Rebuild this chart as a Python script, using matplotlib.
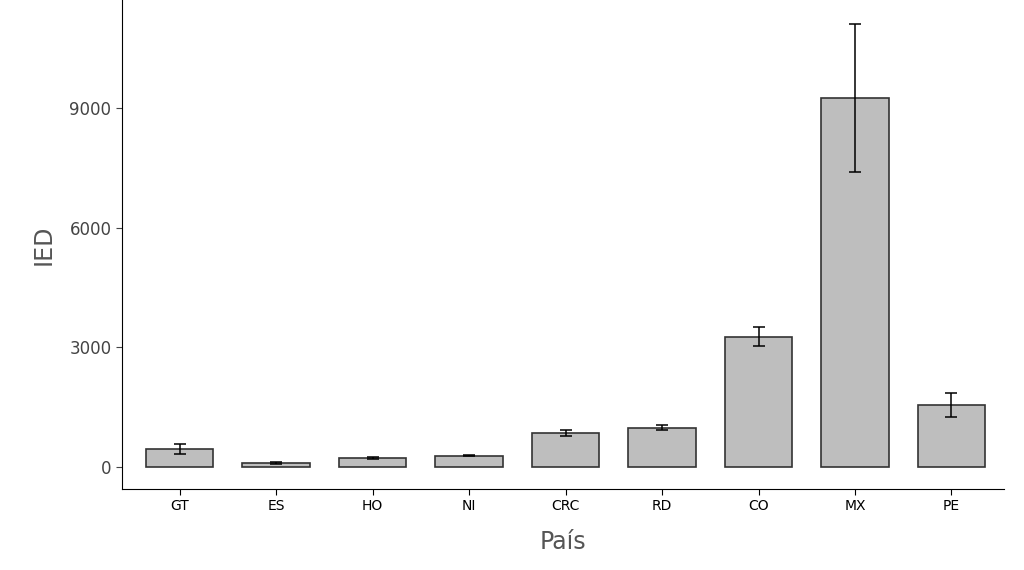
import matplotlib
matplotlib.use('Agg')
import matplotlib.pyplot as plt

paises = ['GT', 'ES', 'HO', 'NI', 'CRC', 'RD', 'CO', 'MX', 'PE']
ied = [450, 110, 230, 290, 850, 990, 3270, 9250, 1560]
err = [130, 30, 30, 20, 80, 70, 240, 1850, 300]

fig = plt.figure(figsize=(10.24, 5.7), dpi=100)
ax = fig.add_axes([0.119, 0.142, 0.861, 0.858])
x = list(range(len(paises)))
ax.bar(x, ied, width=0.7, color='#bebebe', edgecolor='#333333', linewidth=1.2)
ax.errorbar(x, ied, yerr=err, fmt='none', ecolor='black', elinewidth=1.1, capsize=4, capthick=1.1)

ax.set_xlim(-0.6, 8.54)
ax.set_ylim(-550, 11700)
ax.set_yticks([0, 3000, 6000, 9000])
ax.set_xticks(x)
ax.set_xticklabels(paises, fontsize=10)
ax.tick_params(axis='y', labelsize=12, colors='#444444', length=4)
ax.tick_params(axis='x', colors='black', length=4)
for lab in ax.get_yticklabels():
    lab.set_color('#444444')
ax.spines['top'].set_visible(False)
ax.spines['right'].set_visible(False)
ax.set_xlabel('País', fontsize=17, color='#555555', labelpad=12)
ax.set_ylabel('IED', fontsize=17, color='#555555', labelpad=10)

fig.savefig('out.png', dpi=100)
